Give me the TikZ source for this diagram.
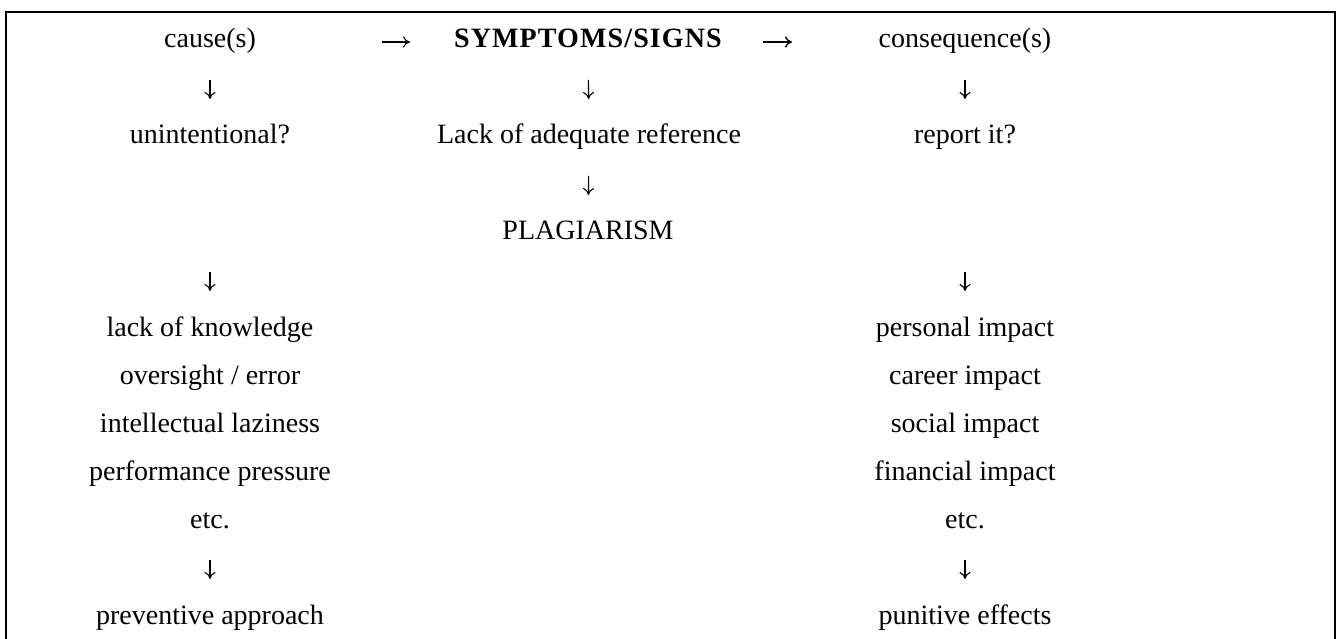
\documentclass[tikz,border=0pt]{standalone}
\usepackage{fontspec}
\setmainfont{Liberation Serif}
\usetikzlibrary{arrows.meta}

\begin{document}
\begin{tikzpicture}[
  x=1pt, y=1pt,
  txt/.style={anchor=base, inner sep=0pt, text height=18pt, text depth=6pt,
              font=\fontsize{28}{32}\selectfont},
  head/.style={txt, font=\fontsize{28}{32}\selectfont\bfseries\addfontfeature{LetterSpace=4}},
  arr/.style={-{To[length=7pt, width=11pt]}, line width=1.1pt},
  down/.style={arr, shorten <=#1, shorten >=39pt},
  frame/.style={line width=1.7pt}
]
\useasboundingbox (0,0) rectangle (1338,-639);
\draw[frame] (6,-639) |- (1335,-12) -- (1335,-639);

% top row
\node[txt]  (cause) at (210,-48) {cause(s)};
\node[head] (symp)  at (588,-48) {SYMPTOMS/SIGNS};
\node[txt]  (cons)  at (965,-48) {consequence(s)};

\node[txt] (unint) at (210,-144) {unintentional?};
\node[txt] (lackref) at (589,-144) {Lack of adequate reference};
\node[txt] (report) at (965,-144) {report it?};
\node[txt] (plag) at (588,-240) {PLAGIARISM};

% the two lists
\foreach \t [count=\i] in {lack of knowledge, oversight / error, intellectual laziness,
                           performance pressure, etc.}
  \node[txt] (cause\i) at ({210},{-288-48*\i}) {\t};
\foreach \t [count=\i] in {personal impact, career impact, social impact,
                           financial impact, etc.}
  \node[txt] (imp\i) at ({965},{-288-48*\i}) {\t};

\node[txt] (prev) at (210,-624) {preventive approach};
\node[txt] (punit) at (965,-624) {punitive effects};

% arrows
\draw[arr, shorten <=172pt, shorten >=178pt] (cause.center) -- (symp.center);
\draw[arr, line width=1.4pt, shorten <=175pt, shorten >=173pt] (symp.center) -- (cons.center);

\foreach \a/\b in {cause/unint, symp/lackref, cons/report, lackref/plag,
                   cause5/prev, imp5/punit}
  \draw[down=38pt] (\a.center) -- (\b.center);
\draw[down=134pt] (unint.center) -- (cause1.center);
\draw[down=134pt] (report.center) -- (imp1.center);
\end{tikzpicture}
\end{document}
